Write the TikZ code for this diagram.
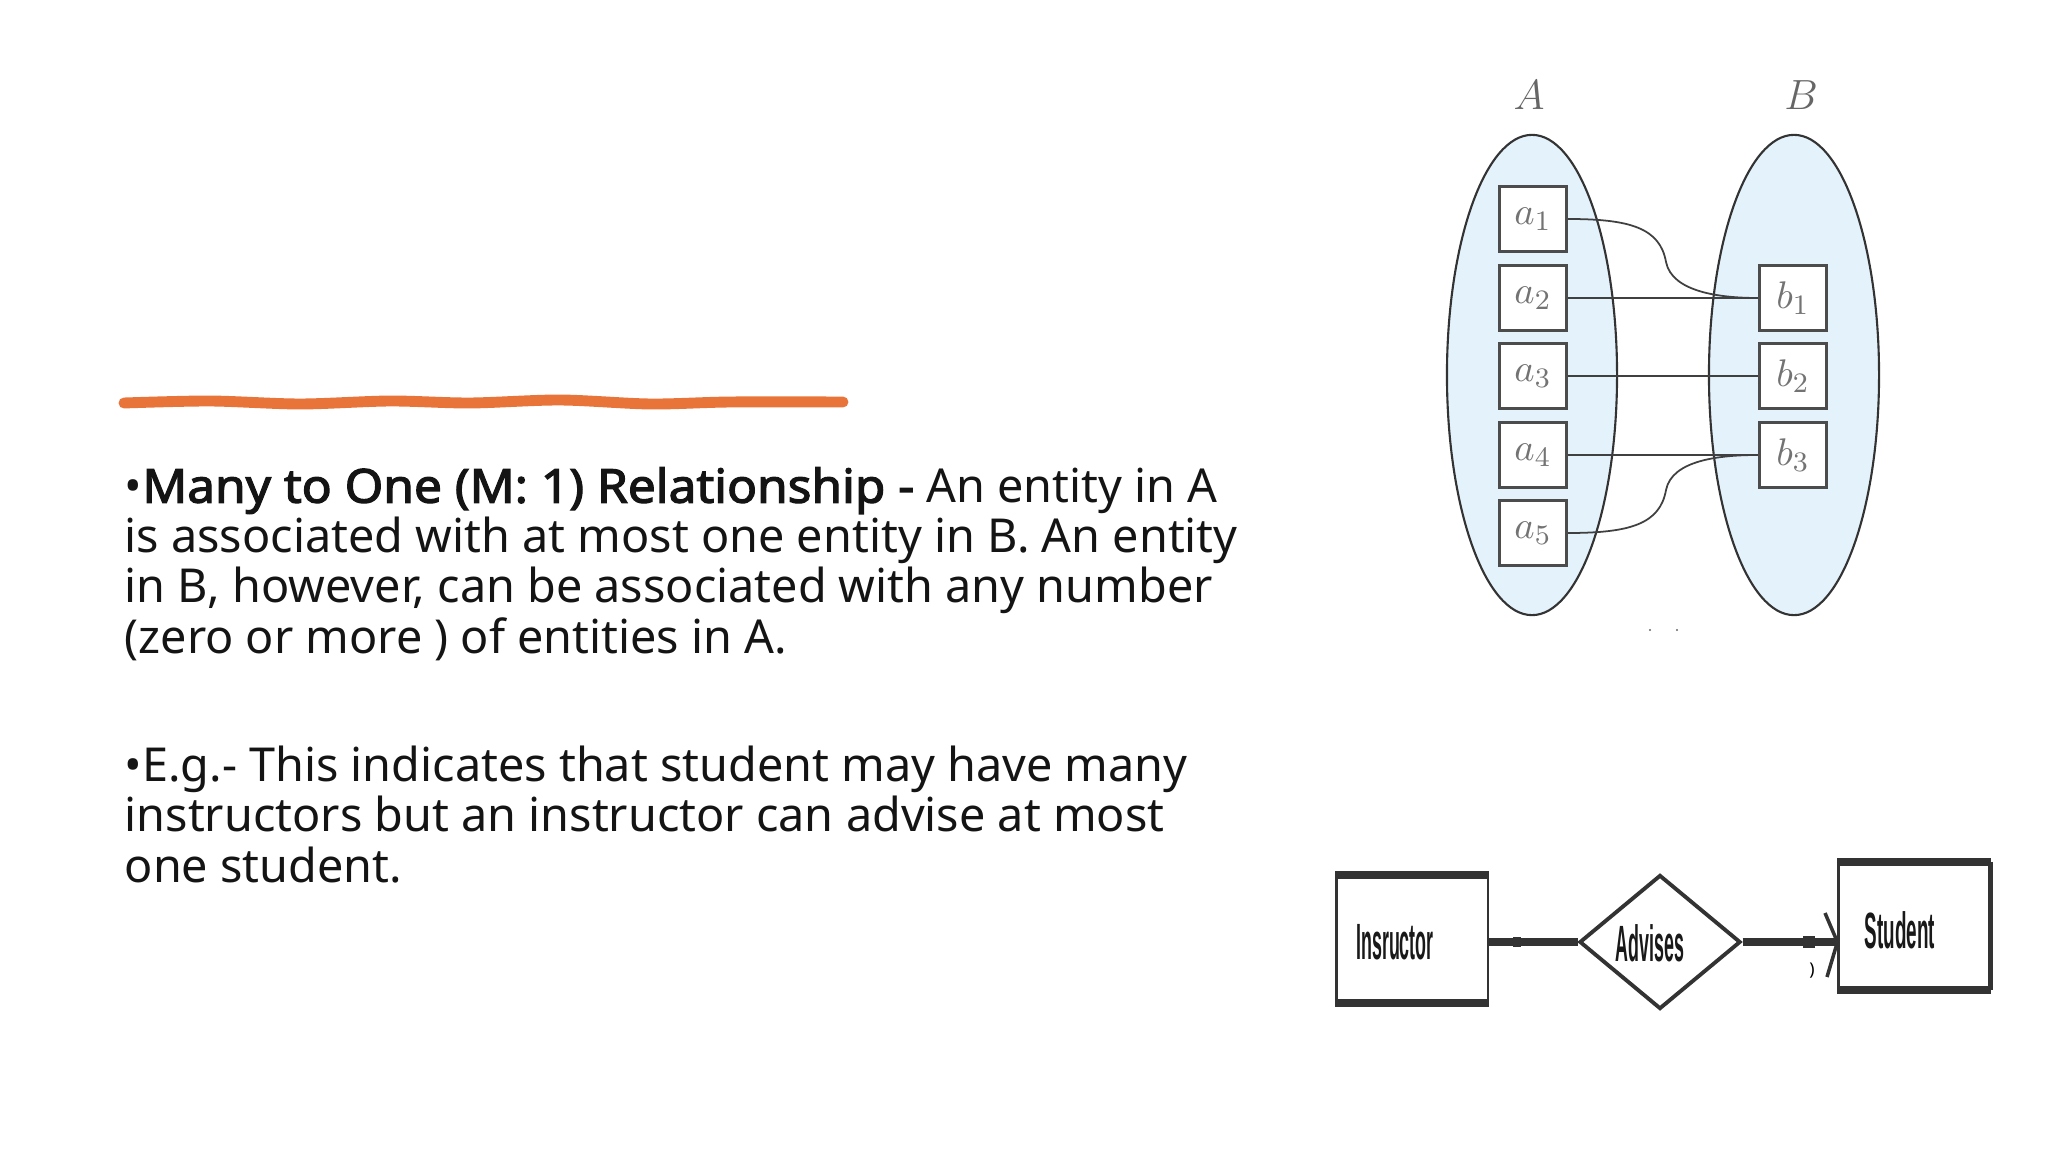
\documentclass[tikz,border=0pt]{standalone}
\usepackage{fontspec}
\setmainfont{Noto Sans}[BoldFont={Noto Sans},BoldFeatures={FakeBold=2.6,FakeStretch=1.06}]
\newfontfamily\erfont{Liberation Sans}
\usetikzlibrary{shapes}

\definecolor{setblue}{HTML}{E4F2FB}
\definecolor{brushorange}{HTML}{E8743A}
\definecolor{erline}{HTML}{333333}

\newcommand\bodyfont{\fontsize{13.3}{14.25}\selectfont\lineskiplimit=-100pt\relax}

\begin{document}
\begin{tikzpicture}[x=0.01cm,y=-0.01cm]
    \tikzstyle{set}      = [ellipse,draw=black!80,line width=0.6pt,fill=setblue,minimum width=1.7cm,minimum height=4.8cm]
    \tikzstyle{setname}  = [text=black!60,font=\fontsize{12}{12}\selectfont]
    \tikzstyle{elem}     = [rectangle,draw=black!70,line width=0.9pt,fill=white,minimum width=0.67cm,minimum height=0.65cm,inner sep=0pt,text=black!55,font=\fontsize{11}{11}\selectfont]
    \tikzstyle{link}     = [-,black!75,line width=0.5pt]
    \tikzstyle{body}     = [align=left,inner sep=0pt,text=black!92,font=\bodyfont]
    \tikzstyle{entity}   = [rectangle,draw=erline,line width=0.6pt,minimum width=1.51cm,minimum height=1.26cm,inner sep=0pt]
    \tikzstyle{relation} = [diamond,draw=erline,line width=1.1pt,minimum width=1.61cm,minimum height=1.34cm,inner sep=0pt,aspect=1.2]
    \tikzstyle{erlabel}  = [inner sep=0pt,text=black!90,font=\erfont\bfseries\fontsize{14.5}{14.5}\selectfont]
    \tikzstyle{erlink}   = [-,erline,line width=2pt]

    \useasboundingbox (0,0) rectangle (2048,1152);

    % heading stroke
    \draw[brushorange,line width=3.1pt,line cap=round] plot[smooth] coordinates
        {(124,403) (210,401) (300,404) (390,401) (470,403) (560,400) (650,404) (730,402) (843,402)};

    % text
    \node[body,anchor=base west] (p1) at (124,653)
        {•\textbf{Many to One (M: 1) Relationship -} An entity in A\\
         is associated with at most one entity in B. An entity\\
         in B, however, can be associated with any number\\
         (zero or more ) of entities in A.};
    \node[body,anchor=base west] (p2) at (124,882)
        {•E.g.- This indicates that student may have many\\
         instructors but an instructor can advise at most\\
         one student.};

    % sets A and B
    \node[setname] (lA) at (1529,95) {$A$};
    \node[setname] (lB) at (1801,95) {$B$};
    \node[set] (A) at (1532,375) {};
    \node[set] (B) at (1794,375) {};

    \node[elem] (a1) at (1533,219) {$a_1$};
    \node[elem] (a2) at (1533,298) {$a_2$};
    \node[elem] (a3) at (1533,376) {$a_3$};
    \node[elem] (a4) at (1533,455) {$a_4$};
    \node[elem] (a5) at (1533,533) {$a_5$};
    \node[elem] (b1) at (1793,298) {$b_1$};
    \node[elem] (b2) at (1793,376) {$b_2$};
    \node[elem] (b3) at (1793,455) {$b_3$};

    \coordinate (k1) at (1666,262);
    \coordinate (k5) at (1666,490);
    \draw[link] (a1.east) .. controls (1630,219) and (1660,228) .. (k1)
                          .. controls (1672,292) and (1720,298) .. (b1.west);
    \draw[link] (a2)--(b1);
    \draw[link] (a3)--(b2);
    \draw[link] (a4)--(b3);
    \draw[link] (a5.east) .. controls (1630,533) and (1660,524) .. (k5)
                          .. controls (1672,460) and (1720,455) .. (b3.west);
    \fill[black!60] (1650,630) circle (1.2) (1677,630) circle (1.2);

    % E-R diagram
    \node[entity]   (inst) at (1412,939) {};
    \node[relation] (adv)  at (1660,942) {};
    \node[entity]   (stud) at (1914,926) {};
    \foreach \e in {inst,stud}{
        \draw[erline,line width=2.2pt] (\e.north west)--(\e.north east);
        \draw[erline,line width=2.2pt] (\e.south west)--(\e.south east);
    }
    \draw[erline,line width=1.3pt] (stud.north east)--(stud.south east);

    \node[erlabel] (instlbl) at (1395,942) {\scalebox{0.35}[1]{Insructor}};
    \node[erlabel] (advlbl)  at (1650,943) {\scalebox{0.35}[1]{Advises}};
    \node[erlabel] (studlbl) at (1900,930) {\scalebox{0.37}[1]{Student}};

    \coordinate (tip) at (stud.west |- adv.east);
    \draw[erlink] (inst.east |- adv.west)--(adv.west);
    \draw[erlink] (adv.east)--(tip);
    \draw[erline,line width=1pt] (1825,913)--(tip)--(1827,977);
    \fill[erline] (1513,937) rectangle (1521,947);
    \fill[erline] (1803,936) rectangle (1815,948);
    \node[inner sep=0pt,font=\fontsize{5}{5}\selectfont] (mark) at (1812,971) {)};
\end{tikzpicture}
\end{document}
